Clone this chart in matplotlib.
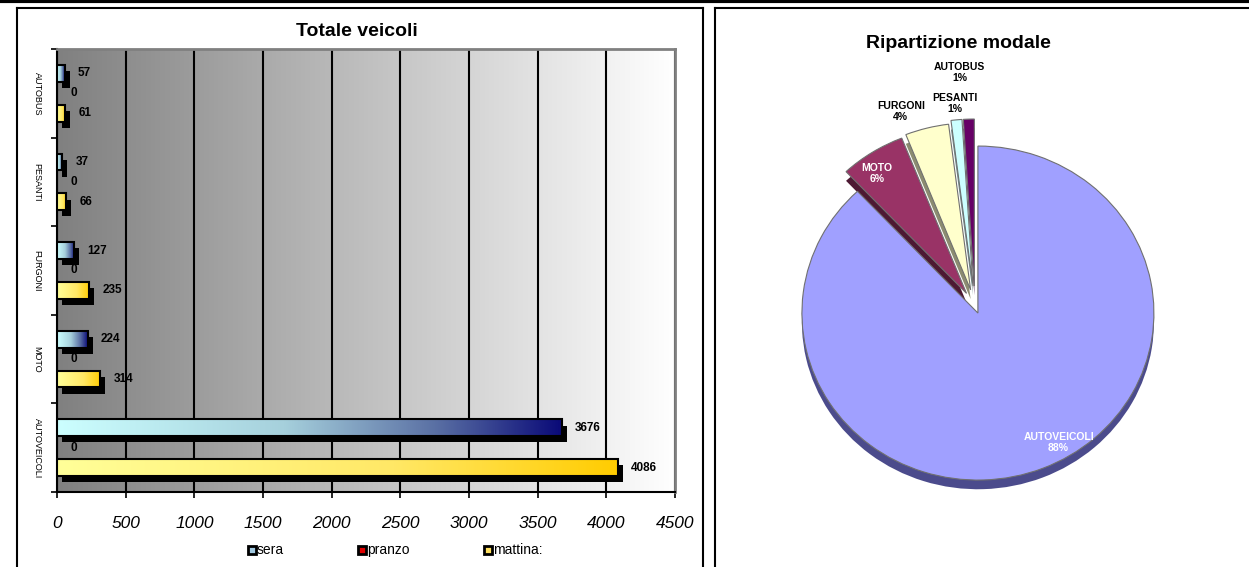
import numpy as np
import matplotlib.pyplot as plt
from matplotlib.colors import LinearSegmentedColormap
from matplotlib.lines import Line2D

plt.rcParams['font.family'] = ['Liberation Sans', 'DejaVu Sans']

# conteggi per fascia oraria, dal basso verso l'alto
categorie = ['AUTOVEICOLI', 'MOTO', 'FURGONI', 'PESANTI', 'AUTOBUS']
sera = [3676, 224, 127, 37, 57]
pranzo = [0, 0, 0, 0, 0]
mattina = [4086, 314, 235, 66, 61]

# ripartizione modale (%)
modi = ['AUTOVEICOLI', 'MOTO', 'FURGONI', 'PESANTI', 'AUTOBUS']
quote = [88, 6, 4, 1, 1]

W, H = 1249, 567


def fx(x):
    return x / W


def fy(y):
    return 1 - y / H


fig = plt.figure(figsize=(W / 100, H / 100), dpi=100)

# ---- grafico a barre ----
ax = fig.add_axes([fx(57), fy(492), (675 - 57) / W, (492 - 49) / H])

grad = np.linspace(0, 1, 256).reshape(1, -1)
sfondo = LinearSegmentedColormap.from_list('sfondo', ['#808080', '#ffffff'])
cm_sera = LinearSegmentedColormap.from_list(
    'sera', [(0, '#ccffff'), (0.45, '#a6d0dc'), (0.75, '#5a70a4'), (1, '#0a0a78')])
cm_mattina = LinearSegmentedColormap.from_list(
    'mattina', [(0, '#ffff99'), (0.6, '#ffe866'), (1, '#ffcc00')])

ax.imshow(grad, extent=[0, 4500, -0.5, 4.5], aspect='auto', cmap=sfondo, zorder=0)

y = np.arange(len(categorie))
h = 0.19
off = 0.225
dx, dy = 36, 0.07  # ombra

for vals, pos, cm in [(sera, y + off, cm_sera), (mattina, y - off, cm_mattina)]:
    ax.barh(pos - dy, vals, h, left=dx, color='black', zorder=2)
    bars = ax.barh(pos, vals, h, color='none', edgecolor='black', linewidth=1.5, zorder=4)
    for b, v in zip(bars, vals):
        im = ax.imshow(grad, extent=[0, v, b.get_y(), b.get_y() + h],
                       aspect='auto', cmap=cm, zorder=3)
        im.set_clip_path(b)

ax.barh(y, pranzo, h, color='#cc0000', linewidth=0, zorder=4)

for vals, pos in [(sera, y + off), (pranzo, y), (mattina, y - off)]:
    for v, p in zip(vals, pos):
        ax.annotate(str(v), (v, p), xytext=(9.5, 0), textcoords='offset points',
                    ha='left', va='center', fontsize=8.5, fontweight='bold', zorder=5)

ax.set_xlim(0, 4500)
ax.set_ylim(-0.5, 4.5)
ax.set_xticks(np.arange(0, 4501, 500))
ax.set_xticklabels([str(t) for t in range(0, 4501, 500)], fontsize=12.5, style='italic')
ax.tick_params(axis='x', length=4, width=1.2, pad=13)
ax.set_yticks(np.arange(-0.5, 4.6, 1))
ax.set_yticklabels([])
ax.tick_params(axis='y', which='major', length=4, width=1.2)
ax.set_yticks(y, minor=True)
ax.set_yticklabels(categorie, minor=True, rotation=-90, va='center', fontsize=6.5)
ax.tick_params(axis='y', which='minor', length=0, pad=11)

ax.grid(axis='x', color='black', linewidth=1.5)
ax.set_axisbelow(True)
for s in ['left', 'bottom']:
    ax.spines[s].set_color('black')
    ax.spines[s].set_linewidth(1.5)
for s in ['top', 'right']:
    ax.spines[s].set_color('#808080')
    ax.spines[s].set_linewidth(2)

fig.text(fx(357), fy(32), 'Totale veicoli', ha='center', va='center',
         fontsize=14, fontweight='bold')

# legenda
legenda = [('sera', '#a0c8e0', 252), ('pranzo', '#e00000', 362), ('mattina:', '#ffe060', 488)]
for nome, col, xp in legenda:
    fig.add_artist(Line2D([fx(xp)], [fy(550)], marker='s', markersize=6,
                          markerfacecolor=col, markeredgecolor='black', markeredgewidth=2,
                          linestyle='none'))
    fig.text(fx(xp + 5), fy(550), nome, ha='left', va='center', fontsize=10)

# ---- torta ----
ax2 = fig.add_axes([fx(758), fy(523), 440 / W, 420 / H])
colori = ['#a0a0ff', '#993366', '#ffffcc', '#ccffff', '#660066']
lati = ['#4b4b8c', '#4d1933', '#8c8c70', '#6f8c8c', '#330033']
esplodi = [0.045, 0.09, 0.1, 0.12, 0.12]

ax2.pie(quote, colors=lati, explode=esplodi, startangle=90, counterclock=False,
        center=(0, -0.055), wedgeprops=dict(linewidth=0, zorder=1))
spicchi, _ = ax2.pie(quote, colors=colori, explode=esplodi, startangle=90,
                     counterclock=False,
                     wedgeprops=dict(edgecolor='#707070', linewidth=0.8, zorder=2))

pos_lab = [(0.9, 9), (0.88, 3), (1.14, 6), (1.1, 0), (1.28, 2)]
col_lab = ['white', 'white', 'black', 'black', 'black']
for w, m, q, (r, da), c in zip(spicchi, modi, quote, pos_lab, col_lab):
    ang = np.deg2rad((w.theta1 + w.theta2) / 2 + da)
    cx, cy = w.center
    ax2.text(cx + r * np.cos(ang), cy + r * np.sin(ang), f'{m}\n{q}%',
             ha='center', va='center', fontsize=7.5, fontweight='bold',
             color=c, linespacing=1.1, zorder=5)

ax2.set_aspect('auto')
ax2.set_xlim(-1.233, 1.267)
ax2.set_ylim(-1.299, 1.216)
ax2.axis('off')

fig.text(fx(958), fy(43), 'Ripartizione modale', ha='center', va='center',
         fontsize=14, fontweight='bold')


# cornici
def linea(x0, y0, x1, y1, lw):
    fig.add_artist(Line2D([fx(x0), fx(x1)], [fy(y0), fy(y1)], color='black', lw=lw))


linea(0, 1, W, 1, 3)
linea(17, 8, 703, 8, 1.5)
linea(17, 8, 17, H, 1.5)
linea(703, 8, 703, H, 1.5)
linea(715, 8, W, 8, 1.5)
linea(715, 8, 715, H, 1.5)

fig.savefig('out.png', dpi=100, facecolor='white')
